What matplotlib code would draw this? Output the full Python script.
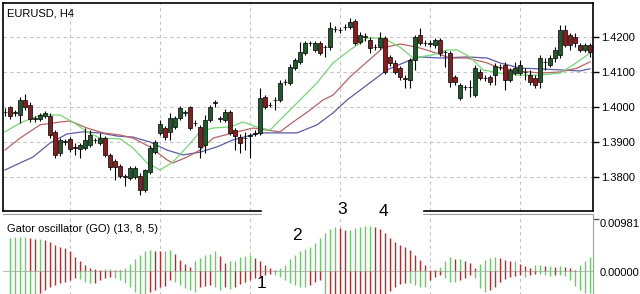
import numpy as np
import matplotlib
matplotlib.use("Agg")
import matplotlib.pyplot as plt
from matplotlib.patches import Rectangle

plt.rcParams['font.family'] = ['Liberation Sans', 'DejaVu Sans']

#%% candles (EURUSD H4), one per bar
opens = [1.3986, 1.3999, 1.3983, 1.3977, 1.4020, 1.4006, 1.3966, 1.3966, 1.3974, 1.3975,
         1.3929, 1.3869, 1.3900, 1.3909, 1.3886, 1.3880, 1.3883, 1.3892, 1.3905, 1.3897,
         1.3911, 1.3863, 1.3846, 1.3832, 1.3803, 1.3797, 1.3800, 1.3803, 1.3763, 1.3814,
         1.3872, 1.3926, 1.3940, 1.3929, 1.3943, 1.3969, 1.3983, 1.4000, 1.3954, 1.3943,
         1.3892, 1.3963, 1.4011, 1.3966, 1.3963, 1.3986, 1.3934, 1.3914, 1.3911, 1.3917,
         1.3923, 1.3926, 1.4029, 1.4006, 1.4020, 1.4020, 1.4071, 1.4069, 1.4111, 1.4129,
         1.4154, 1.4183, 1.4163, 1.4183, 1.4171, 1.4171, 1.4223, 1.4220, 1.4228, 1.4229,
         1.4246, 1.4186, 1.4200, 1.4191, 1.4172, 1.4171, 1.4197, 1.4143, 1.4126, 1.4111,
         1.4083, 1.4077, 1.4134, 1.4206, 1.4183, 1.4180, 1.4177, 1.4191, 1.4157, 1.4154,
         1.4086, 1.4026, 1.4057, 1.4057, 1.4034, 1.4100, 1.4083, 1.4086, 1.4091, 1.4114,
         1.4120, 1.4077, 1.4097, 1.4097, 1.4100, 1.4091, 1.4083, 1.4071, 1.4129, 1.4120,
         1.4140, 1.4149, 1.4220, 1.4206, 1.4200, 1.4177, 1.4163, 1.4177]
closes = [1.3985, 1.3975, 1.3985, 1.4020, 1.4000, 1.3966, 1.3968, 1.3977, 1.3983, 1.3920,
          1.3863, 1.3906, 1.3903, 1.3880, 1.3883, 1.3892, 1.3906, 1.3920, 1.3906, 1.3911,
          1.3863, 1.3829, 1.3829, 1.3803, 1.3800, 1.3826, 1.3826, 1.3763, 1.3820, 1.3883,
          1.3900, 1.3952, 1.3914, 1.3969, 1.3969, 1.3997, 1.3985, 1.3940, 1.3955, 1.3886,
          1.3963, 1.4000, 1.4014, 1.3968, 1.3986, 1.3926, 1.3917, 1.3897, 1.3912, 1.3920,
          1.3926, 1.4026, 1.4000, 1.4005, 1.4019, 1.4069, 1.4072, 1.4114, 1.4134, 1.4157,
          1.4183, 1.4183, 1.4183, 1.4154, 1.4172, 1.4226, 1.4223, 1.4221, 1.4229, 1.4243,
          1.4183, 1.4206, 1.4202, 1.4169, 1.4171, 1.4197, 1.4100, 1.4126, 1.4100, 1.4086,
          1.4081, 1.4134, 1.4200, 1.4183, 1.4182, 1.4183, 1.4191, 1.4154, 1.4156, 1.4071,
          1.4071, 1.4063, 1.4058, 1.4057, 1.4111, 1.4083, 1.4082, 1.4071, 1.4117, 1.4115,
          1.4077, 1.4106, 1.4111, 1.4120, 1.4099, 1.4071, 1.4063, 1.4140, 1.4128, 1.4140,
          1.4163, 1.4220, 1.4177, 1.4177, 1.4183, 1.4163, 1.4177, 1.4157]
highs = [1.3997, 1.4003, 1.3991, 1.4029, 1.4037, 1.4014, 1.3974, 1.3983, 1.3989, 1.3983,
         1.3934, 1.3911, 1.3909, 1.3914, 1.3897, 1.3897, 1.3940, 1.3934, 1.3911, 1.3926,
         1.3917, 1.3869, 1.3852, 1.3837, 1.3809, 1.3832, 1.3832, 1.3812, 1.3823, 1.3892,
         1.3906, 1.3963, 1.3946, 1.3983, 1.3975, 1.4003, 1.3991, 1.4003, 1.3963, 1.3949,
         1.3977, 1.4006, 1.4020, 1.3974, 1.3994, 1.3991, 1.3940, 1.3923, 1.3929, 1.3926,
         1.3934, 1.4054, 1.4034, 1.4014, 1.4029, 1.4077, 1.4080, 1.4123, 1.4140, 1.4186,
         1.4189, 1.4189, 1.4189, 1.4189, 1.4177, 1.4243, 1.4231, 1.4229, 1.4237, 1.4254,
         1.4251, 1.4214, 1.4211, 1.4200, 1.4180, 1.4214, 1.4203, 1.4149, 1.4134, 1.4117,
         1.4092, 1.4140, 1.4206, 1.4226, 1.4191, 1.4191, 1.4197, 1.4197, 1.4163, 1.4160,
         1.4091, 1.4069, 1.4063, 1.4077, 1.4120, 1.4109, 1.4091, 1.4091, 1.4126, 1.4123,
         1.4129, 1.4111, 1.4129, 1.4134, 1.4111, 1.4106, 1.4091, 1.4149, 1.4140, 1.4149,
         1.4171, 1.4234, 1.4234, 1.4211, 1.4211, 1.4183, 1.4183, 1.4183]
lows = [1.3974, 1.3966, 1.3974, 1.3955, 1.3991, 1.3957, 1.3957, 1.3960, 1.3968, 1.3911,
        1.3855, 1.3860, 1.3892, 1.3872, 1.3863, 1.3855, 1.3877, 1.3886, 1.3897, 1.3892,
        1.3857, 1.3820, 1.3791, 1.3797, 1.3774, 1.3791, 1.3794, 1.3749, 1.3757, 1.3809,
        1.3866, 1.3920, 1.3906, 1.3906, 1.3937, 1.3963, 1.3974, 1.3934, 1.3946, 1.3855,
        1.3869, 1.3957, 1.4000, 1.3957, 1.3957, 1.3920, 1.3877, 1.3869, 1.3877, 1.3855,
        1.3917, 1.3920, 1.3994, 1.4000, 1.3991, 1.4014, 1.4063, 1.4063, 1.4106, 1.4123,
        1.4149, 1.4174, 1.4157, 1.4149, 1.4143, 1.4163, 1.4214, 1.4211, 1.4220, 1.4223,
        1.4177, 1.4180, 1.4189, 1.4154, 1.4163, 1.4166, 1.4094, 1.4117, 1.4094, 1.4077,
        1.4054, 1.4054, 1.4106, 1.4177, 1.4174, 1.4171, 1.4169, 1.4146, 1.4114, 1.4057,
        1.4063, 1.4020, 1.4049, 1.4029, 1.4029, 1.4077, 1.4074, 1.4063, 1.4063, 1.4106,
        1.4049, 1.4071, 1.4091, 1.4091, 1.4077, 1.4063, 1.4054, 1.4054, 1.4106, 1.4114,
        1.4129, 1.4140, 1.4171, 1.4163, 1.4171, 1.4157, 1.4157, 1.4143]

#%% Alligator lines (bar position, price)
jaw_x = [0, 3, 5.6, 9, 12.4, 15.6, 19, 22.4, 25.6, 29, 32.4, 35.6, 39, 42.4, 45.6, 51, 55,
         58.4, 62.4, 65.6, 68.4, 72.4, 76.4, 81, 83, 87, 92.4, 96.4, 99, 103, 107, 111, 115, 117]
jaw_y = [1.3820, 1.3840, 1.3857, 1.3897, 1.3923, 1.3929, 1.3926, 1.3917, 1.3914, 1.3900,
         1.3877, 1.3863, 1.3871, 1.3886, 1.3906, 1.3926, 1.3926, 1.3926, 1.3949, 1.3983,
         1.4020, 1.4063, 1.4106, 1.4134, 1.4143, 1.4140, 1.4143, 1.4140, 1.4126, 1.4111,
         1.4109, 1.4106, 1.4103, 1.4109]
teeth_x = [0, 3, 7, 11, 13, 16.4, 19.6, 23, 25.6, 29, 32.4, 33.6, 36.4, 39, 41.6, 45.6, 49.6,
           52.4, 55, 57.6, 61, 63.6, 65.6, 69, 72.4, 75.6, 79, 82.4, 85.6, 89, 92.4, 96.4,
           99, 103, 107, 111, 114.4, 117]
teeth_y = [1.3877, 1.3911, 1.3949, 1.3957, 1.3960, 1.3940, 1.3926, 1.3920, 1.3911, 1.3886,
           1.3849, 1.3840, 1.3857, 1.3877, 1.3911, 1.3926, 1.3940, 1.3934, 1.3929, 1.3957,
           1.3991, 1.4020, 1.4034, 1.4086, 1.4129, 1.4169, 1.4180, 1.4171, 1.4157, 1.4140,
           1.4140, 1.4126, 1.4111, 1.4103, 1.4097, 1.4100, 1.4111, 1.4129]
lips_x = [0, 3, 7, 11, 13.6, 16.4, 19, 23, 25.6, 28.4, 31, 33.6, 36.4, 39, 41.6, 45, 47.6,
          50.4, 53, 55, 57.6, 62.4, 65.6, 69, 72.4, 75.6, 79, 81.6, 85.6, 88.4, 90.4, 93,
          95.6, 99, 103, 107, 111, 113.6, 117]
lips_y = [1.3929, 1.3954, 1.3977, 1.3977, 1.3957, 1.3929, 1.3911, 1.3909, 1.3883, 1.3840,
          1.3820, 1.3843, 1.3886, 1.3929, 1.3940, 1.3943, 1.3957, 1.3943, 1.3934, 1.3963,
          1.4000, 1.4069, 1.4126, 1.4163, 1.4197, 1.4197, 1.4171, 1.4140, 1.4149, 1.4163,
          1.4163, 1.4143, 1.4106, 1.4097, 1.4091, 1.4091, 1.4097, 1.4120, 1.4154]

#%% Gator oscillator (13, 8, 5), bars 1..117
go_up = [0.0062, 0.0064, 0.0065, 0.0065, 0.0063, 0.0060, 0.0060, 0.0059, 0.0055, 0.0049,
         0.0046, 0.0043, 0.0038, 0.0027, 0.0018, 0.0011, 0.0005, 0.0003, 0.0001, 0.0003,
         0.0003, 0.0002, 0.0001, 0.0005, 0.0013, 0.0022, 0.0030, 0.0038, 0.0040, 0.0038,
         0.0037, 0.0038, 0.0040, 0.0032, 0.0021, 0.0013, 0.0008, 0.0018, 0.0024, 0.0030,
         0.0033, 0.0037, 0.0028, 0.0015, 0.0018, 0.0018, 0.0027, 0.0028, 0.0030, 0.0024,
         0.0018, 0.0011, 0.0005, 0.0002, 0.0005, 0.0011, 0.0022, 0.0030, 0.0037, 0.0041,
         0.0046, 0.0052, 0.0062, 0.0071, 0.0079, 0.0083, 0.0081, 0.0078, 0.0078, 0.0081,
         0.0084, 0.0085, 0.0085, 0.0084, 0.0079, 0.0071, 0.0062, 0.0055, 0.0049, 0.0046,
         0.0040, 0.0030, 0.0021, 0.0011, 0.0002, 0.0001, 0.0008, 0.0018, 0.0026, 0.0022,
         0.0022, 0.0019, 0.0016, 0.0005, 0.0014, 0.0020, 0.0024, 0.0027, 0.0024, 0.0021,
         0.0018, 0.0018, 0.0014, 0.0009, 0.0005, 0.0011, 0.0011, 0.0009, 0.0009, 0.0008,
         0.0009, 0.0008, 0.0005, 0.0002, 0.0011, 0.0018, 0.0027]
go_down = [0.0050, 0.0050, 0.0050, 0.0050, 0.0050, 0.0050, 0.0042, 0.0036, 0.0031, 0.0026,
           0.0023, 0.0020, 0.0017, 0.0013, 0.0015, 0.0020, 0.0023, 0.0022, 0.0017, 0.0013,
           0.0011, 0.0013, 0.0017, 0.0023, 0.0030, 0.0040, 0.0044, 0.0048, 0.0040, 0.0036,
           0.0031, 0.0028, 0.0017, 0.0020, 0.0026, 0.0032, 0.0036, 0.0040, 0.0030, 0.0028,
           0.0026, 0.0030, 0.0036, 0.0031, 0.0034, 0.0031, 0.0025, 0.0021, 0.0017, 0.0013,
           0.0010, 0.0008, 0.0006, 0.0008, 0.0012, 0.0017, 0.0022, 0.0027, 0.0031, 0.0031,
           0.0027, 0.0020, 0.0017, 0.0080, 0.0078, 0.0076, 0.0074, 0.0072, 0.0070, 0.0068,
           0.0066, 0.0064, 0.0062, 0.0060, 0.0058, 0.0045, 0.0038, 0.0030, 0.0024, 0.0022,
           0.0023, 0.0026, 0.0031, 0.0031, 0.0017, 0.0011, 0.0008, 0.0014, 0.0020, 0.0020,
           0.0017, 0.0014, 0.0008, 0.0014, 0.0033, 0.0039, 0.0036, 0.0030, 0.0020, 0.0016,
           0.0012, 0.0009, 0.0008, 0.0011, 0.0008, 0.0006, 0.0006, 0.0008, 0.0009, 0.0008,
           0.0008, 0.0009, 0.0017, 0.0028, 0.0036, 0.0042, 0.0042]

price_ticks = [1.38, 1.39, 1.40, 1.41, 1.42]
go_max = 0.00981
grid_bars = [13, 31, 49, 67, 85, 103]
labels = ['1', '2', '3', '4']

#%% figure
W, H = 640, 294
fig = plt.figure(figsize=(W / 100, H / 100), dpi=100)
fig.patch.set_facecolor('white')

ax = fig.add_axes([3 / W, (H - 211) / H, 590 / W, 208 / H])
ax2 = fig.add_axes([3 / W, (H - 300) / H, 590 / W, 86 / H])

grid_kw = dict(color='#c4c4c4', lw=0.8, ls=(0, (3, 3)))

# candles
o = np.array(opens); c = np.array(closes)
idx = np.arange(len(o))
up = c >= o
ax.vlines(idx, lows, highs, color='black', lw=0.8, zorder=3)
body_lo = np.minimum(o, c)
body_h = np.maximum(np.abs(c - o), 0.00003)
ax.bar(idx[up], body_h[up], bottom=body_lo[up], width=0.62, color='#1f5a2a',
       edgecolor='black', lw=0.5, zorder=4)
ax.bar(idx[~up], body_h[~up], bottom=body_lo[~up], width=0.62, color='#8c1c1c',
       edgecolor='black', lw=0.5, zorder=4)

ax.plot(jaw_x, jaw_y, color='#5b5ba6', lw=0.9, zorder=2)
ax.plot(teeth_x, teeth_y, color='#b86464', lw=0.9, zorder=2)
ax.plot(lips_x, lips_y, color='#74d874', lw=0.9, zorder=2)

ax.set_xlim(-0.4, 117.6)
ax.set_ylim(1.42 - 174 / 3500, 1.42 + 34 / 3500)
ax.yaxis.tick_right()
ax.set_yticks(price_ticks)
ax.set_yticklabels(['%.4f' % v for v in price_ticks])
ax.tick_params(axis='y', direction='out', length=4, width=1, pad=2, labelsize=8)
ax.set_xticks(grid_bars)
ax.set_xticklabels([])
ax.tick_params(axis='x', length=0)
ax.grid(True, **grid_kw)
ax.set_axisbelow(True)
for s in ax.spines.values():
    s.set_color('black'); s.set_linewidth(1.2)

# gator oscillator
gx = np.arange(1, len(go_up) + 1)
gu = np.array(go_up); gd = np.array(go_down)
up_col = ['#66cc66' if i == 0 or gu[i] >= gu[i - 1] else '#c02828' for i in range(len(gu))]
dn_col = ['#66cc66' if i == 0 or gd[i] >= gd[i - 1] else '#c02828' for i in range(len(gd))]
ax2.axhline(0, color='#bdbdbd', lw=0.8, zorder=1)
ax2.vlines(gx, 0, gu, colors=up_col, lw=1.0, zorder=3)
ax2.vlines(gx, -gd, 0, colors=dn_col, lw=1.0, zorder=3)
px = 0.000189
ax2.set_xlim(-0.4, 117.6)
ax2.set_ylim(-29 * px, 57 * px)
ax2.set_xticks(grid_bars)
ax2.set_xticklabels([])
ax2.tick_params(axis='x', length=0)
ax2.grid(True, axis='x', **grid_kw)
ax2.yaxis.tick_right()
ax2.set_yticks([go_max])
ax2.set_yticklabels([])
ax2.tick_params(axis='y', direction='out', length=4, width=1, color='#555555')
ax2.spines['left'].set_visible(False)
ax2.spines['bottom'].set_visible(False)
ax2.spines['top'].set_color('#a0a0a0')
ax2.spines['right'].set_color('#a0a0a0')
fig.text(600 / W, 1 - 224 / H, '%.5f' % go_max, fontsize=8, va='center', ha='left')
fig.text(600 / W, 1 - 273 / H, '%.5f' % 0, fontsize=8, va='center', ha='left')

# titles
fig.text(7 / W, 1 - 14 / H, 'EURUSD, H4', fontsize=8, va='center', ha='left')
fig.text(7 / W, 1 - 229 / H, 'Gator oscillator (GO) (13, 8, 5)', fontsize=8,
         va='center', ha='left')

# white gap with phase numbers
fig.patches.append(Rectangle((262 / W, 1 - 218 / H), 160 / W, 21 / H,
                             transform=fig.transFigure, color='white', zorder=5))
label_pos = [(262, 284), (297, 236), (342, 209), (383, 211)]
for t, (lx, ly) in zip(labels, label_pos):
    fig.text(lx / W, 1 - ly / H, t, fontsize=12.5, ha='center', va='center', zorder=6)

fig.savefig('out.png', dpi=100)
